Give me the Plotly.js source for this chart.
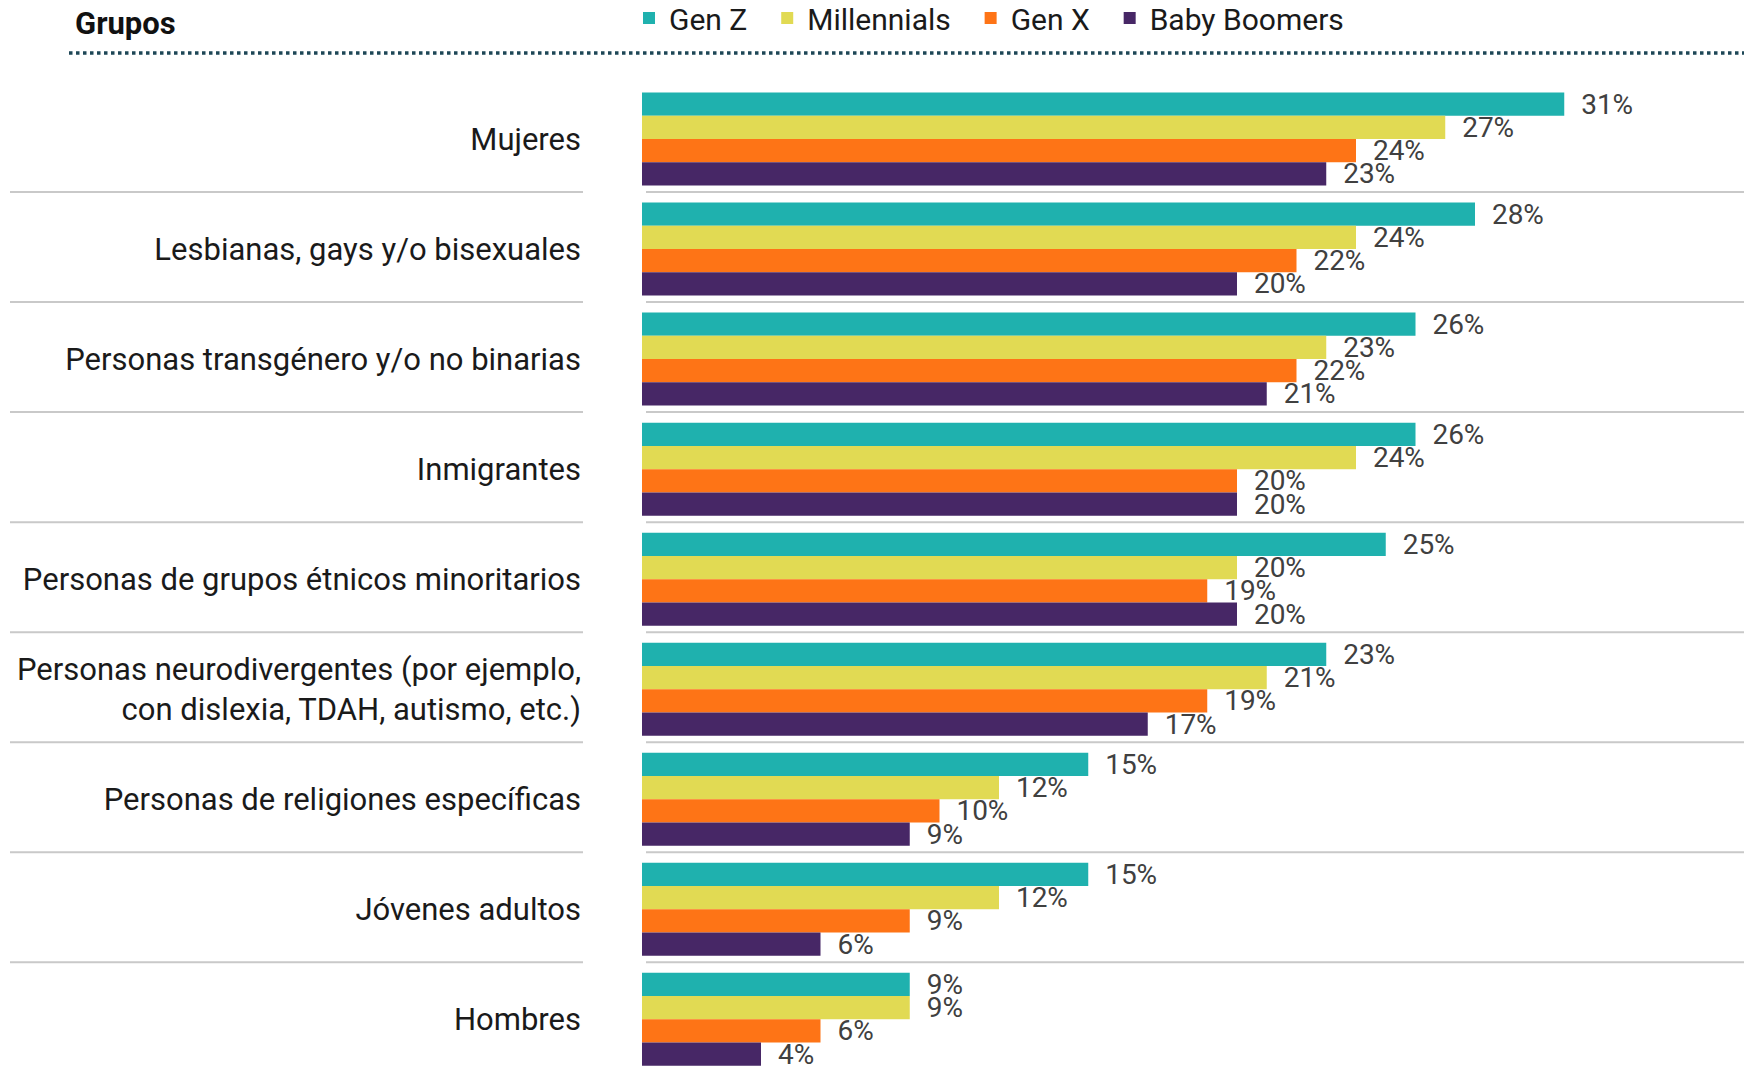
<!DOCTYPE html>
<html>
<head>
<meta charset="utf-8">
<script src="https://cdn.plot.ly/plotly-3.0.1.min.js"></script>
<style>html,body{margin:0;padding:0;background:#fff;}</style>
</head>
<body>
<div id="chart" style="width:1754px;height:1070px;"></div>
<script>
const categories = [
  "Mujeres",
  "Lesbianas, gays y/o bisexuales",
  "Personas transgénero y/o no binarias",
  "Inmigrantes",
  "Personas de grupos étnicos minoritarios",
  "Personas neurodivergentes (por ejemplo,<br>con dislexia, TDAH, autismo, etc.)",
  "Personas de religiones específicas",
  "Jóvenes adultos",
  "Hombres"
];
const genZ        = [31, 28, 26, 26, 25, 23, 15, 15, 9];
const millennials = [27, 24, 23, 24, 20, 21, 12, 12, 9];
const genX        = [24, 22, 22, 20, 19, 19, 10, 9, 6];
const boomers     = [23, 20, 21, 20, 20, 17, 9, 6, 4];
const seriesNames = ["Gen Z", "Millennials", "Gen X", "Baby Boomers"];
const seriesColors = ["#1fb1ae", "#e1da53", "#fe7416", "#472766"];
const headerText = "Grupos";

const W = 1754, H = 1070;
const ML = 642, MR = 11, MT = 84, MB = 0;
const PW = W - ML - MR, PH = H - MT - MB;
const pxPerUnit = 29.75;
const xMax = PW / pxPerUnit;
const pitch = 110.04;
const yTop = -0.5, yBottom = -0.5 + PH / pitch;
const sepOffset = -2 / pitch;

const idx = categories.map((_, i) => i);
const allSeries = [genZ, millennials, genX, boomers];
const traces = allSeries.map((vals, k) => ({
  type: 'bar',
  orientation: 'h',
  name: seriesNames[k] + '\u00a0\u00a0',
  x: vals,
  y: idx,
  marker: {color: seriesColors[k], line: {width: 0}},
  text: vals.map(v => v + '%'),
  texttemplate: '\u00a0\u00a0%{text}',
  textposition: 'outside',
  constraintext: 'none',
  cliponaxis: false,
  textfont: {family: 'Roboto, sans-serif', size: 28, color: '#404040'},
  hoverinfo: 'skip'
}));

const pxX = px => (px - ML) / PW;
const pxY = py => 1 - (py - MT) / PH;

const shapes = [];
for (let i = 0; i < categories.length - 1; i++) {
  const yy = i + 0.5 + sepOffset;
  shapes.push({type: 'line', xref: 'paper', yref: 'y', x0: pxX(10), x1: pxX(583), y0: yy, y1: yy,
    line: {color: '#c9c9c9', width: 2}});
  shapes.push({type: 'line', xref: 'paper', yref: 'y', x0: pxX(646), x1: pxX(1744), y0: yy, y1: yy,
    line: {color: '#c9c9c9', width: 2}});
}
shapes.push({type: 'line', xref: 'paper', yref: 'paper', x0: pxX(69), x1: pxX(1744), y0: pxY(53), y1: pxY(53),
  line: {color: '#1d4656', width: 3.5, dash: 'dot'}});

const layout = {
  width: W, height: H,
  margin: {l: ML, r: MR, t: MT, b: MB, pad: 0, autoexpand: false},
  paper_bgcolor: '#fff', plot_bgcolor: '#fff',
  barmode: 'group', bargap: 0.155, bargroupgap: 0,
  showlegend: true,
  legend: {
    orientation: 'h', x: pxX(629), xanchor: 'left', y: pxY(18), yanchor: 'middle',
    font: {family: 'Roboto, sans-serif', size: 30, color: '#1a1a1a'},
    traceorder: 'normal', itemwidth: 30, bgcolor: 'rgba(0,0,0,0)'
  },
  xaxis: {range: [0, xMax], showgrid: false, zeroline: false, showticklabels: false, showline: false, ticks: ''},
  yaxis: {
    range: [yBottom, yTop], tickmode: 'array', tickvals: idx, ticktext: categories,
    showgrid: false, zeroline: false, showline: false, ticks: '',
    ticklabelstandoff: 60,
    tickfont: {family: 'Roboto, sans-serif', size: 31, color: '#1a1a1a'}
  },
  shapes: shapes,
  annotations: [{
    text: '<b>' + headerText + '</b>', xref: 'paper', yref: 'paper',
    x: pxX(73), y: pxY(23), xanchor: 'left', yanchor: 'middle', showarrow: false,
    font: {family: 'Roboto, sans-serif', size: 31, color: '#111'}
  }]
};

Plotly.newPlot('chart', traces, layout, {displayModeBar: false, staticPlot: true});
</script>
</body>
</html>
